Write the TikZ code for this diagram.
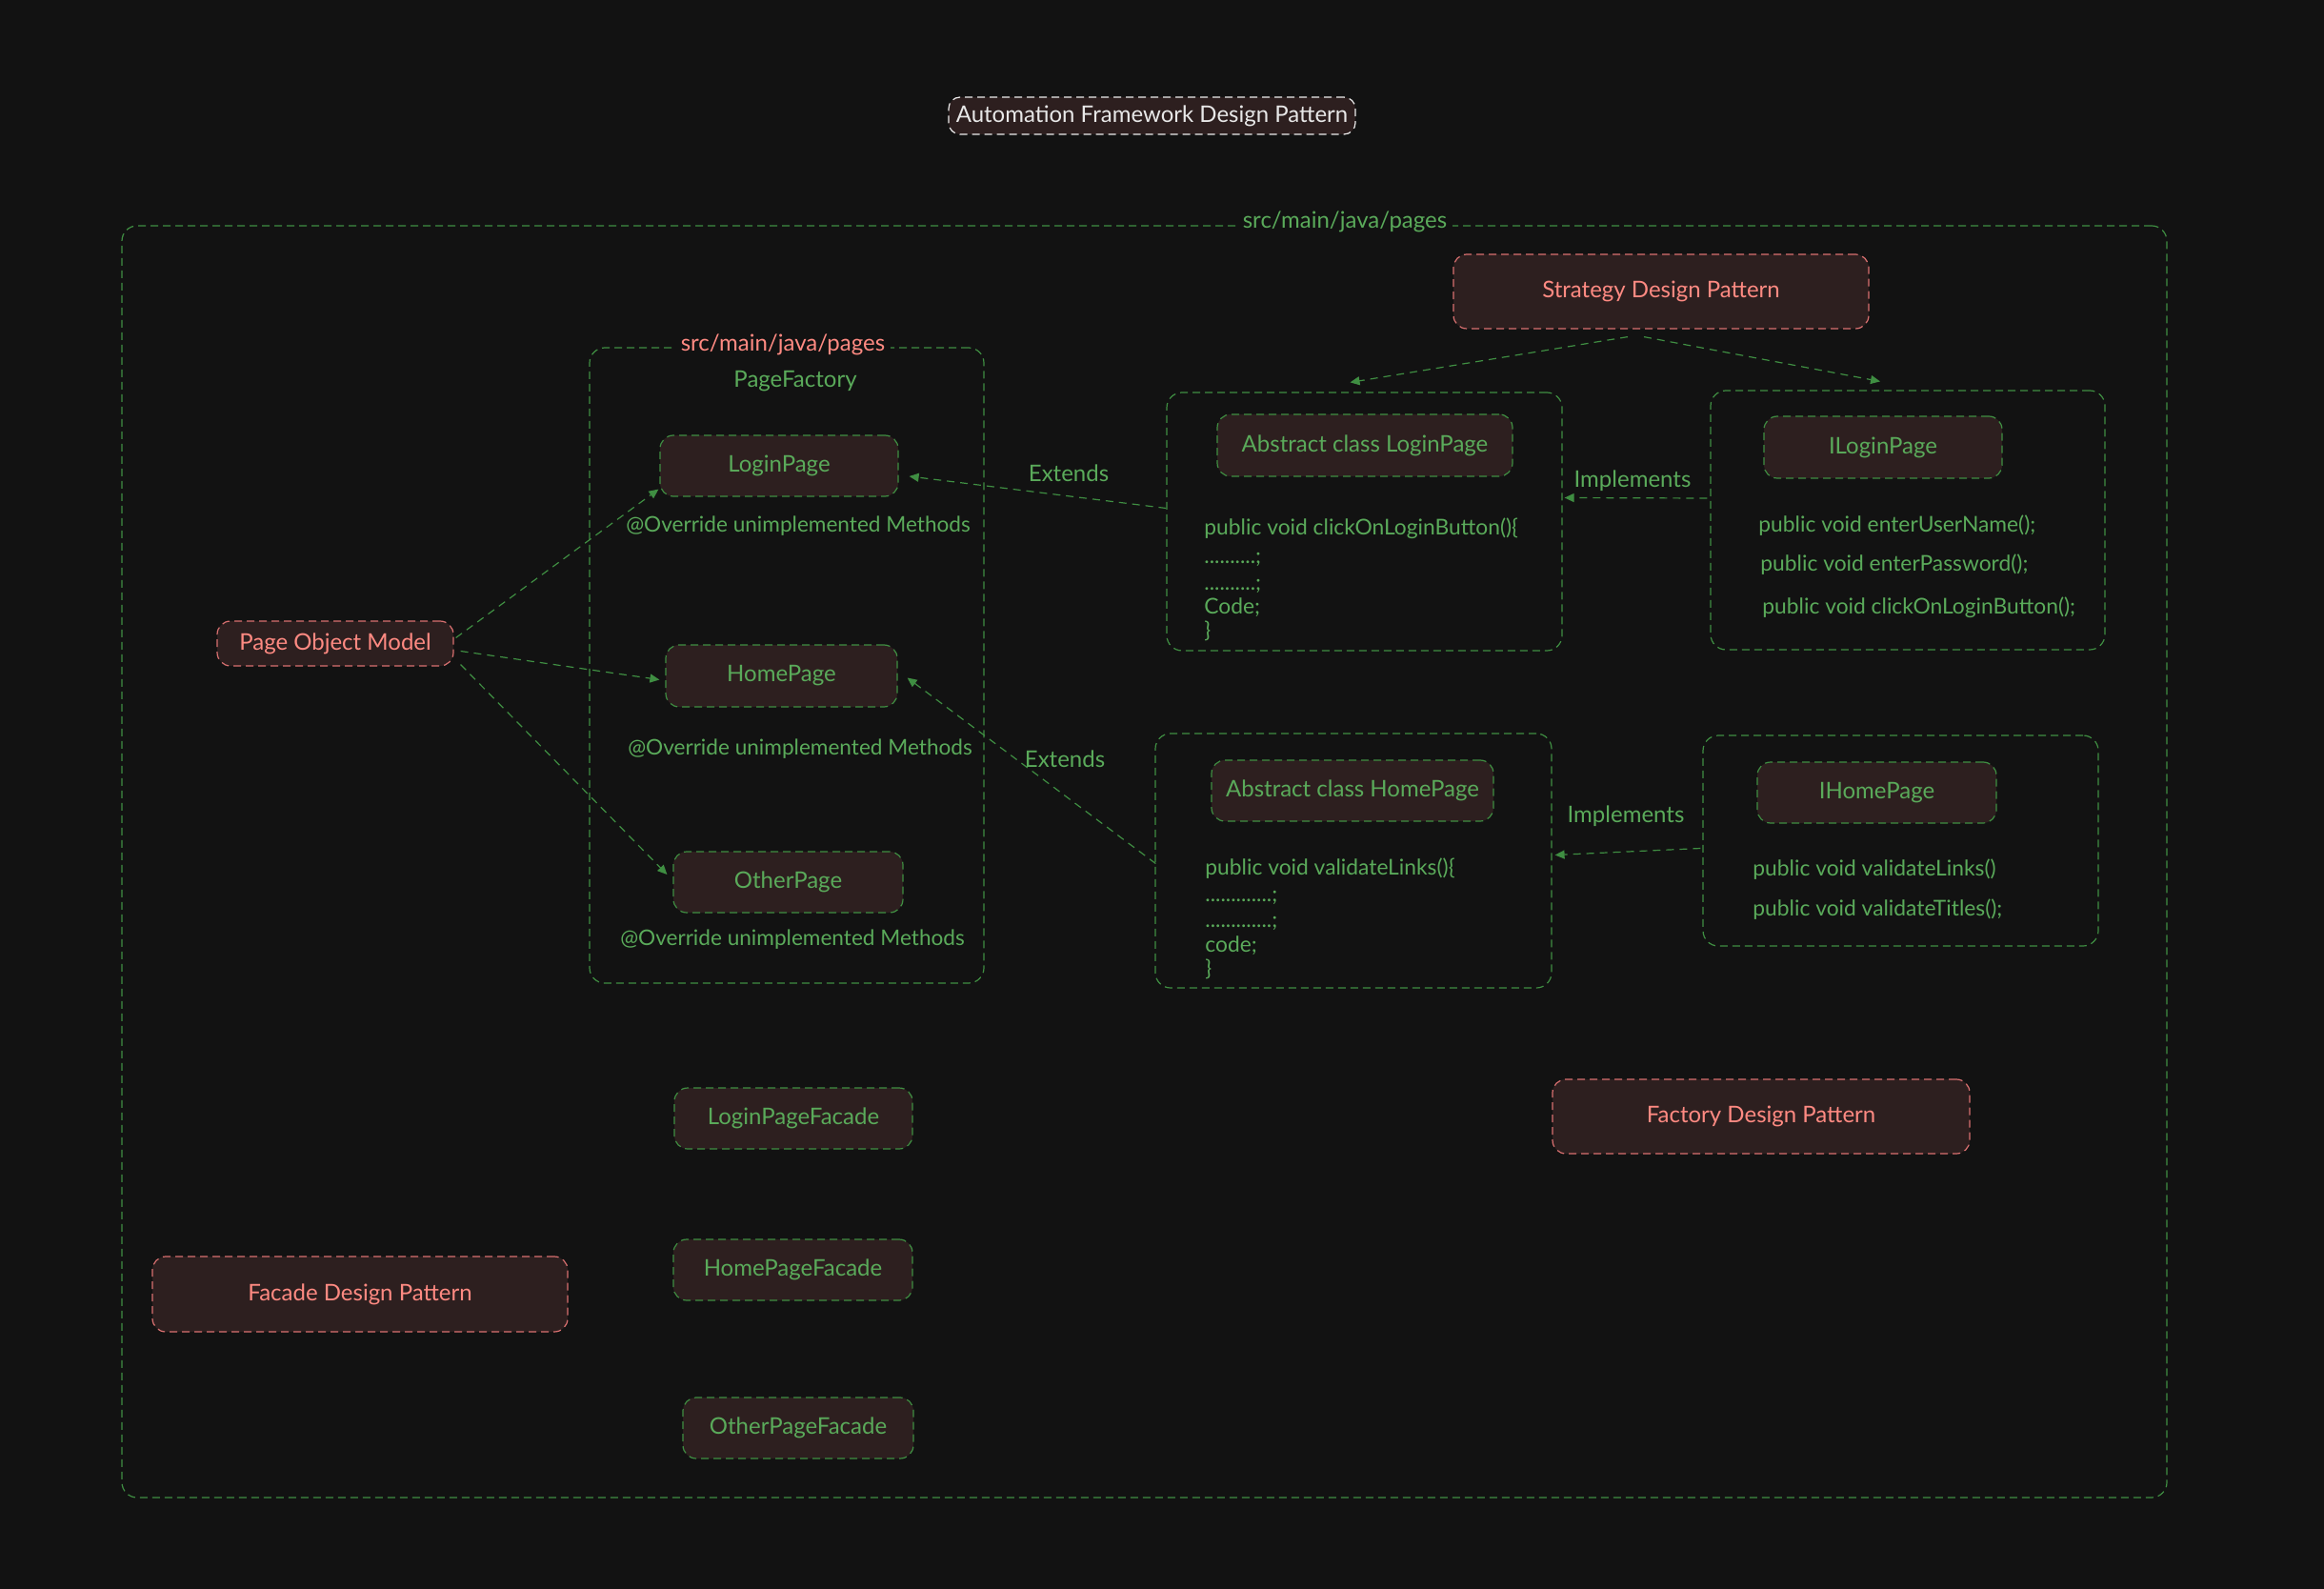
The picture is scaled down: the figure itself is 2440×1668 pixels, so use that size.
\documentclass[tikz,border=0pt]{standalone}
\usepackage{fontspec}
\setmainfont{Lato}
\usetikzlibrary{arrows.meta,calc}
\definecolor{bgc}{HTML}{121212}
\definecolor{gtext}{HTML}{5AAA5A}
\definecolor{gline}{HTML}{3F8E42}
\definecolor{rtext}{HTML}{FF8A82}
\definecolor{rline}{HTML}{D97070}
\definecolor{wtext}{HTML}{E8E8E8}
\definecolor{boxfill}{HTML}{2D1F1F}
\tikzset{
  base/.style={font=\fontsize{12}{14}\selectfont, inner sep=0pt},
  cont/.style={draw=gline, line width=0.6pt, dash pattern=on 4pt off 2.5pt, rounded corners=8pt, inner sep=0pt},
  gbox/.style={base, draw=gline, fill=boxfill, text=gtext, line width=0.6pt, dash pattern=on 4pt off 2.5pt, rounded corners=7pt},
  rbox/.style={base, draw=rline, fill=boxfill, text=rtext, line width=0.6pt, dash pattern=on 4pt off 2.5pt, rounded corners=7pt},
  wbox/.style={base, draw=wtext!80, fill=boxfill, text=wtext, line width=0.6pt, dash pattern=on 4pt off 2.5pt, rounded corners=6pt},
  gtxt/.style={base, text=gtext},
  ovtxt/.style={font=\fontsize{11.3}{13}\selectfont, inner sep=0pt, text=gtext},
  code/.style={font=\fontsize{11.4}{13}\selectfont, text=gtext, anchor=west, inner sep=0pt},
  conn/.style={draw=gline, line width=0.6pt, dash pattern=on 4pt off 3pt, -{Triangle[length=5pt,width=4.5pt]}},
}
\begin{document}
\begin{tikzpicture}[x=0.5pt,y=-0.5pt]
\fill[bgc] (0,0) rectangle (2440,1668);
\useasboundingbox (0,0) rectangle (2440,1668);

% title
\node[wbox, minimum width=213.5pt, minimum height=19.5pt] (title) at (1209.5,121.5) {Automation Framework Design Pattern};

% outer container
\node[cont, minimum width=1073.5pt, minimum height=667.5pt] (outer) at (1201.5,904.5) {};
\node[base, text=gtext, fill=bgc, inner xsep=3pt] (outerlbl) at (1412,233) {src/main/java/pages};

% PageFactory container
\node[cont, minimum width=207pt, minimum height=333.5pt] (pf) at (826,698.5) {};
\node[base, text=rtext, fill=bgc, inner xsep=3pt] (pflbl) at (822,362) {src/main/java/pages};
\node[gtxt] (pfname) at (835,400) {PageFactory};

\node[gbox, minimum width=125pt, minimum height=32pt] (login) at (818,489) {LoginPage};
\node[ovtxt] (ov1) at (838,552) {@Override unimplemented Methods};
\node[gbox, minimum width=121.5pt, minimum height=32.5pt] (home) at (820.5,709.5) {HomePage};
\node[ovtxt] (ov2) at (840,786) {@Override unimplemented Methods};
\node[gbox, minimum width=120.5pt, minimum height=32pt] (other) at (827.5,926) {OtherPage};
\node[ovtxt] (ov3) at (832,986) {@Override unimplemented Methods};

% Page Object Model
\node[rbox, minimum width=124pt, minimum height=23.5pt] (pom) at (352,675.5) {Page Object Model};

% Strategy
\node[rbox, minimum width=218pt, minimum height=39pt] (strategy) at (1744,306) {Strategy Design Pattern};

% Abstract LoginPage container
\node[cont, minimum width=207.5pt, minimum height=135.5pt] (alp) at (1432.5,547.5) {};
\node[gbox, minimum width=155pt, minimum height=32.5pt] (alpbox) at (1433,467.5) {Abstract class LoginPage};
\node[code] (alp1) at (1264,555) {public void clickOnLoginButton()\{};
\node[code] (alp2) at (1264,587) {..........;};
\node[code] (alp3) at (1264,615) {..........;};
\node[code] (alp4) at (1264,638) {Code;};
\node[code] (alp5) at (1264,662) {\}};

% ILoginPage container
\node[cont, minimum width=207pt, minimum height=136pt] (ilp) at (2003,546) {};
\node[gbox, minimum width=125pt, minimum height=32.5pt] (ilpbox) at (1977,469.5) {ILoginPage};
\node[code] (ilp1) at (1846,552) {public void enterUserName();};
\node[code] (ilp2) at (1848,593) {public void enterPassword();};
\node[code] (ilp3) at (1850,638) {public void clickOnLoginButton();};

% Abstract HomePage container
\node[cont, minimum width=208pt, minimum height=133.5pt] (ahp) at (1421,903.5) {};
\node[gbox, minimum width=148pt, minimum height=32pt] (ahpbox) at (1420,830) {Abstract class HomePage};
\node[code] (ahp1) at (1265,912) {public void validateLinks()\{};
\node[code] (ahp2) at (1265,942) {.............;};
\node[code] (ahp3) at (1265,969) {.............;};
\node[code] (ahp4) at (1265,993) {code;};
\node[code] (ahp5) at (1265,1017) {\}};

% IHomePage container
\node[cont, minimum width=207.5pt, minimum height=110.5pt] (ihp) at (1995.5,882.5) {};
\node[gbox, minimum width=125.5pt, minimum height=32pt] (ihpbox) at (1970.5,832) {IHomePage};
\node[code] (ihp1) at (1840,913) {public void validateLinks()};
\node[code] (ihp2) at (1840,955) {public void validateTitles();};

% Factory / Facade
\node[rbox, minimum width=219pt, minimum height=39pt] (factory) at (1849,1172) {Factory Design Pattern};
\node[rbox, minimum width=218pt, minimum height=39.5pt] (facade) at (378,1358.5) {Facade Design Pattern};
\node[gbox, minimum width=125pt, minimum height=32pt] (lpf) at (833,1174) {LoginPageFacade};
\node[gbox, minimum width=125.5pt, minimum height=32pt] (hpf) at (832.5,1333) {HomePageFacade};
\node[gbox, minimum width=121pt, minimum height=32pt] (opf) at (838,1499) {OtherPageFacade};

% connectors
\draw[conn] ($(pom.east)+(2,-6)$) -- ($(login.south west)+(-1,-8)$);
\draw[conn] ($(pom.east)+(7,8)$) -- ($(home.west)+(-6,4)$);
\draw[conn] ($(pom.south east)+(7,-2)$) -- ($(other.west)+(-6,-8)$);

\draw[conn] ($(strategy.south)+(-35,8)$) -- ($(alp.north)+(-15,-10)$);
\draw[conn] ($(strategy.south)+(-18,8)$) -- ($(ilp.north)+(-29,-9)$);

\draw[conn] ($(alp.west)+(0,-14)$) -- ($(login.east)+(11,11)$);
\node[gtxt] (ext1) at (1122,497) {Extends};
\draw[conn] ($(ahp.west)+(1,3)$) -- ($(home.east)+(10,2)$);
\node[gtxt] (ext2) at (1118,797) {Extends};

\draw[conn] ($(ilp.west)+(-3,-23)$) -- ($(alp.east)+(2,-25)$);
\node[gtxt] (imp1) at (1714,505) {Implements};
\draw[conn] ($(ihp.west)+(-2,8)$) -- ($(ahp.east)+(3,-6)$);
\node[gtxt] (imp2) at (1707,857) {Implements};
\end{tikzpicture}
\end{document}
